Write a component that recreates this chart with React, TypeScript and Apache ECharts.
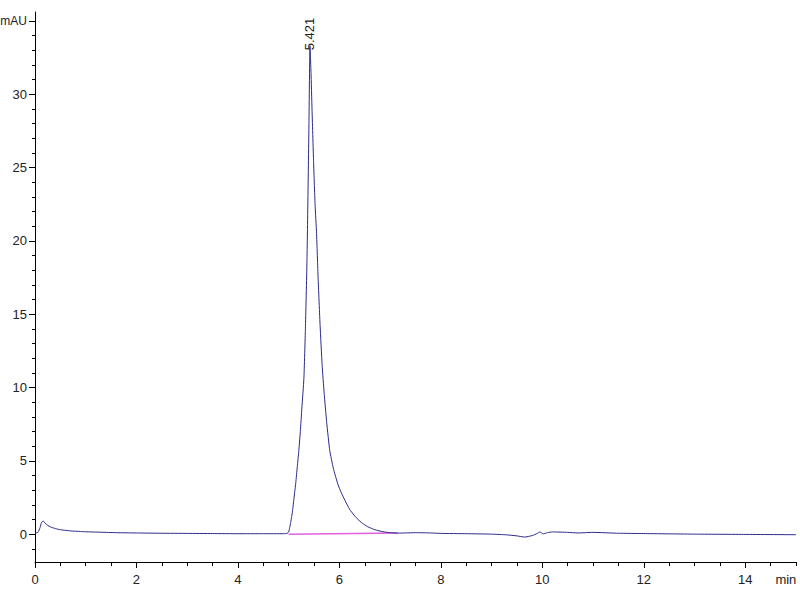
import React, { useEffect, useRef } from "react";
import * as echarts from "echarts";

// Chromatogram signal (time in min, absorbance in mAU)
const times: number[] = [
  0.0, 0.06, 0.1, 0.13, 0.16, 0.2, 0.25, 0.3, 0.4, 0.5, 0.7, 0.9, 1.0, 1.3, 1.6, 2.0, 2.5, 3.0, 3.5, 4.0, 4.5, 4.9,
  4.97, 5.0, 5.02, 5.04, 5.06, 5.08, 5.1, 5.12, 5.14, 5.17, 5.2, 5.23, 5.26, 5.3, 5.33, 5.36, 5.38, 5.4, 5.42,
  5.44, 5.46, 5.49, 5.52, 5.55, 5.58, 5.62, 5.66, 5.7, 5.75, 5.81, 5.88, 5.97, 6.04, 6.11, 6.2, 6.31, 6.43,
  6.56, 6.7, 6.86, 7.0, 7.15, 7.3, 7.5, 7.8, 8.0, 8.5, 9.0, 9.3, 9.5, 9.65, 9.8, 9.9, 9.95, 10.02, 10.1,
  10.2, 10.5, 10.7, 11.0, 11.5, 12.0, 13.0, 14.0, 15.0,
];
const mAU: number[] = [
  0.08, 0.12, 0.45, 0.8, 0.9, 0.75, 0.6, 0.5, 0.38, 0.3, 0.22, 0.18, 0.16, 0.13, 0.1, 0.08, 0.06, 0.05, 0.04, 0.03, 0.03, 0.03,
  0.05, 0.15, 0.45, 0.8, 1.2, 1.7, 2.3, 2.9, 3.5, 4.6, 5.7, 7.0, 8.6, 10.6, 14.0, 18.5, 23.0, 28.0, 33.3,
  31.5, 29.0, 25.5, 22.5, 20.5, 17.5, 14.2, 11.5, 9.6, 7.6, 5.7, 4.5, 3.4, 2.8, 2.3, 1.7, 1.2, 0.8,
  0.5, 0.3, 0.16, 0.1, 0.07, 0.08, 0.1, 0.08, 0.05, 0.03, 0.0, -0.05, -0.12, -0.2, -0.1, 0.05, 0.15, 0.02, 0.1,
  0.15, 0.12, 0.08, 0.12, 0.06, 0.04, 0.0, -0.02, -0.04,
];

// Integration baseline of the peak
const baselineTimes: number[] = [5.0, 7.15];
const baselineValues: number[] = [0.0, 0.07];

// Peak annotation
const peakTime = 5.42;
const peakValue = 33.3;
const peakLabel = "5.421";

// Axis ticks / labels
const xLabelValues: number[] = [0, 2, 4, 6, 8, 10, 12, 14, 14.8];
const xMinorTicks: number[] = Array.from({ length: 31 }, (_, i) => i * 0.5);
const xMajorTicks: number[] = [0, 2, 4, 6, 8, 10, 12, 14];
const yLabelValues: number[] = [0, 5, 10, 15, 20, 25, 30, 35];
const yMinorTicks: number[] = Array.from({ length: 37 }, (_, i) => i - 1);

const FONT = "'Liberation Sans', Arial, sans-serif";

export default function App() {
  const ref = useRef<HTMLDivElement>(null);
  useEffect(() => {
    if (!ref.current) return;
    const chart = echarts.init(ref.current, undefined, { renderer: "svg" });
    const signal = times.map((t, i) => [t, mAU[i]]);
    const base = baselineTimes.map((t, i) => [t, baselineValues[i]]);
    const labelStyle = { fontFamily: FONT, fontSize: 13, color: "#222" };
    chart.setOption({
      animation: false,
      backgroundColor: "#ffffff",
      grid: { left: 35, right: 4, top: 12, bottom: 38, containLabel: false, outerBoundsMode: "none" },
      xAxis: [
        {
          type: "value",
          min: 0,
          max: 15,
          position: "bottom",
          axisLine: { onZero: false, lineStyle: { color: "#000", width: 1 } },
          axisTick: { show: true, length: 6, customValues: xMajorTicks, lineStyle: { color: "#000" } },
          axisLabel: {
            ...labelStyle,
            margin: 11,
            customValues: xLabelValues,
            formatter: (v: number) => (v === 14.8 ? "min" : String(v)),
          },
          splitLine: { show: false },
        },
        {
          type: "value",
          min: 0,
          max: 15,
          position: "bottom",
          offset: 0,
          axisLine: { show: false, onZero: false },
          axisTick: { show: true, length: 4, customValues: xMinorTicks, lineStyle: { color: "#000" } },
          axisLabel: { show: false },
          splitLine: { show: false },
        },
      ],
      yAxis: [
        {
          type: "value",
          min: -1.9,
          max: 35.6,
          position: "left",
          axisLine: { show: true, onZero: false, lineStyle: { color: "#000", width: 1 } },
          axisTick: { show: true, length: 6, customValues: yLabelValues, lineStyle: { color: "#000" } },
          axisLabel: {
            ...labelStyle,
            margin: 8,
            customValues: yLabelValues,
            formatter: (v: number) => (v === 35 ? "{u|mAU}" : String(v)),
            rich: { u: { fontFamily: FONT, fontSize: 12, color: "#222" } },
          },
          splitLine: { show: false },
        },
        {
          type: "value",
          min: -1.9,
          max: 35.6,
          position: "left",
          offset: 0,
          axisLine: { show: false, onZero: false },
          axisTick: { show: true, length: 3, customValues: yMinorTicks, lineStyle: { color: "#000" } },
          axisLabel: { show: false },
          splitLine: { show: false },
        },
      ],
      series: [
        {
          type: "line",
          data: base,
          xAxisIndex: 0,
          yAxisIndex: 0,
          symbol: "none",
          lineStyle: { color: "#e060e0", width: 1.5 },
          z: 2,
        },
        {
          type: "line",
          data: signal,
          xAxisIndex: 0,
          yAxisIndex: 0,
          symbol: "none",
          smooth: 0.15,
          lineStyle: { color: "#2a2a8a", width: 1 },
          z: 3,
          markPoint: {
            symbol: "circle",
            symbolSize: 1,
            itemStyle: { color: "rgba(0,0,0,0)" },
            label: {
              show: true,
              formatter: peakLabel,
              position: "top",
              rotate: 90,
              align: "left",
              verticalAlign: "middle",
              distance: -5,
              fontFamily: FONT,
              fontSize: 13,
              color: "#222",
            },
            data: [{ coord: [peakTime, peakValue] }],
          },
        },
      ],
    });
    return () => chart.dispose();
  }, []);
  return (
    <div
      ref={ref}
      style={{ position: "fixed", left: 0, top: 0, width: 800, height: 600, background: "#fff" }}
    />
  );
}
